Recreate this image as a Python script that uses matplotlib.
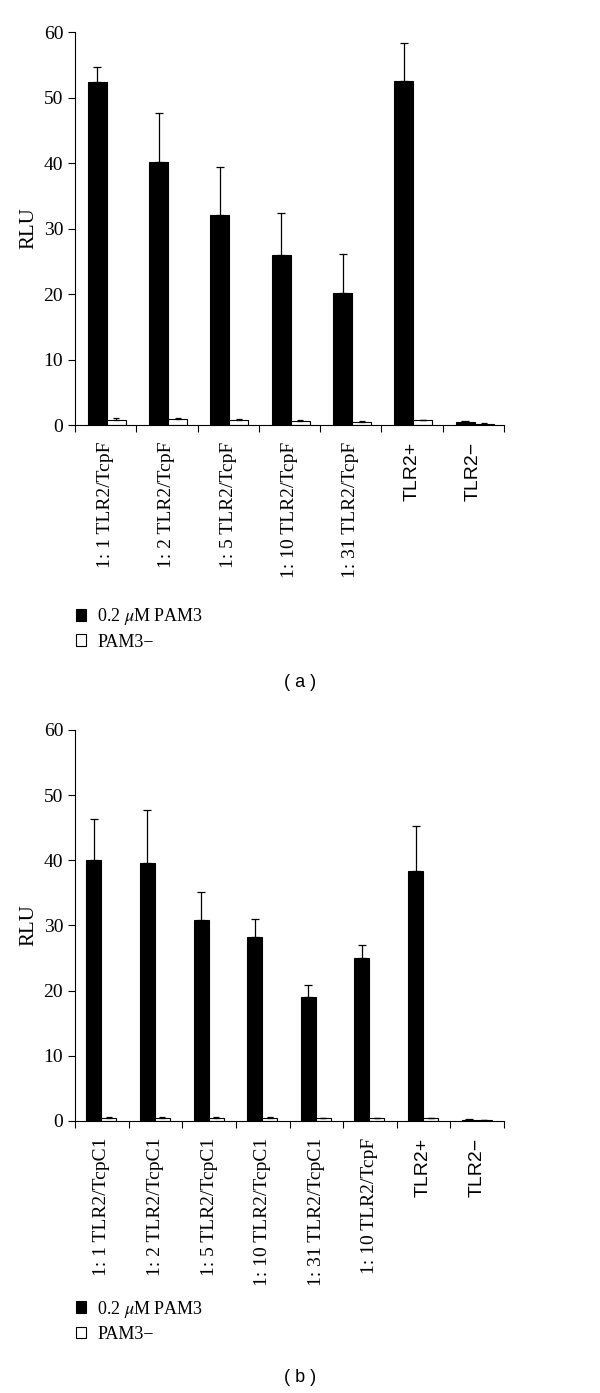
import numpy as np
import matplotlib
matplotlib.use("Agg")
import matplotlib.pyplot as plt
from matplotlib.patches import Patch

plt.rcParams['font.family'] = ['Liberation Serif', 'DejaVu Serif']
plt.rcParams['mathtext.fontset'] = 'stix'

# panel (a)
labels_a = ["1: 1 TLR2/TcpF", "1: 2 TLR2/TcpF", "1: 5 TLR2/TcpF", "1: 10 TLR2/TcpF",
            "1: 31 TLR2/TcpF", "TLR2+", "TLR2\u2212"]
pam_a = [52.3, 40.2, 32.1, 26.0, 20.2, 52.6, 0.5]
pam_a_err = [2.4, 7.5, 7.3, 6.4, 5.9, 5.7, 0.15]
neg_a = [0.8, 0.9, 0.8, 0.6, 0.5, 0.7, 0.2]
neg_a_err = [0.2, 0.2, 0.15, 0.1, 0.1, 0.1, 0.05]

# panel (b)
labels_b = ["1: 1 TLR2/TcpC1", "1: 2 TLR2/TcpC1", "1: 5 TLR2/TcpC1", "1: 10 TLR2/TcpC1",
            "1: 31 TLR2/TcpC1", "1: 10 TLR2/TcpF", "TLR2+", "TLR2\u2212"]
pam_b = [40.1, 39.6, 30.9, 28.3, 19.0, 25.0, 38.3, 0.2]
pam_b_err = [6.2, 8.1, 4.3, 2.7, 1.9, 2.0, 6.9, 0.1]
neg_b = [0.5, 0.5, 0.5, 0.5, 0.4, 0.4, 0.4, 0.1]
neg_b_err = [0.1, 0.1, 0.1, 0.1, 0.1, 0.1, 0.1, 0.05]

fig = plt.figure(figsize=(6, 13.93), dpi=100)
ax_a = fig.add_axes([0.125, 0.6949, 0.715, 0.2821])
ax_b = fig.add_axes([0.125, 0.1953, 0.715, 0.2807])


def draw(ax, labels, pam, pam_err, neg, neg_err, w):
    n = len(labels)
    x = np.arange(n)
    xb = x + 0.21 + w / 2
    xw = x + 0.21 + w + w / 2
    ax.bar(xb, pam, width=w, color='black', edgecolor='black', linewidth=0.8)
    ax.bar(xw, neg, width=w, color='white', edgecolor='black', linewidth=0.8)
    ax.errorbar(xb, pam, yerr=[np.zeros(n), pam_err], fmt='none', ecolor='black',
                elinewidth=0.9, capsize=3, capthick=0.9)
    ax.errorbar(xw, neg, yerr=[np.zeros(n), neg_err], fmt='none', ecolor='black',
                elinewidth=0.9, capsize=2, capthick=0.9)
    ax.set_xlim(0, n)
    ax.set_ylim(0, 60)
    ax.set_yticks(range(0, 61, 10))
    ax.set_xticks(x + 0.5)
    ax.set_xticklabels(labels, rotation=90, va='top', ha='center')
    for t in ax.get_xticklabels():
        if t.get_text().startswith("TLR2"):
            t.set_family(['Liberation Sans', 'DejaVu Sans'])
            t.set_fontsize(13)
    ax.set_xticks(np.arange(n + 1), minor=True)
    ax.tick_params(axis='x', which='major', length=0, pad=12, labelsize=14)
    ax.tick_params(axis='x', which='minor', length=5, width=0.8, direction='out')
    ax.tick_params(axis='y', length=5, width=0.8, direction='out', labelsize=14)
    for s in ['top', 'right']:
        ax.spines[s].set_visible(False)
    for s in ['left', 'bottom']:
        ax.spines[s].set_linewidth(0.8)
    ax.set_ylabel("RLU", fontsize=15, labelpad=4)


draw(ax_a, labels_a, pam_a, pam_a_err, neg_a, neg_a_err, 0.31)
draw(ax_b, labels_b, pam_b, pam_b_err, neg_b, neg_b_err, 0.28)

handles = [Patch(facecolor='black', edgecolor='black', linewidth=0.8),
           Patch(facecolor='white', edgecolor='black', linewidth=0.8)]
names = ["0.2 $\\mu$M PAM3", "PAM3\u2212"]
for ypos in [0.5765, 0.0795]:
    fig.legend(handles, names, loc='upper left', bbox_to_anchor=(0.099, ypos),
               frameon=False, fontsize=13, handlelength=0.6, handleheight=0.6,
               handletextpad=0.6, labelspacing=0.35)

fig.text(0.5, 1 - 683 / 1393, "( a )", ha='center', va='center', fontsize=13,
         family=['Liberation Sans', 'DejaVu Sans'])
fig.text(0.5, 1 - 1378 / 1393, "( b )", ha='center', va='center', fontsize=13,
         family=['Liberation Sans', 'DejaVu Sans'])

fig.savefig("out.png", dpi=100)
